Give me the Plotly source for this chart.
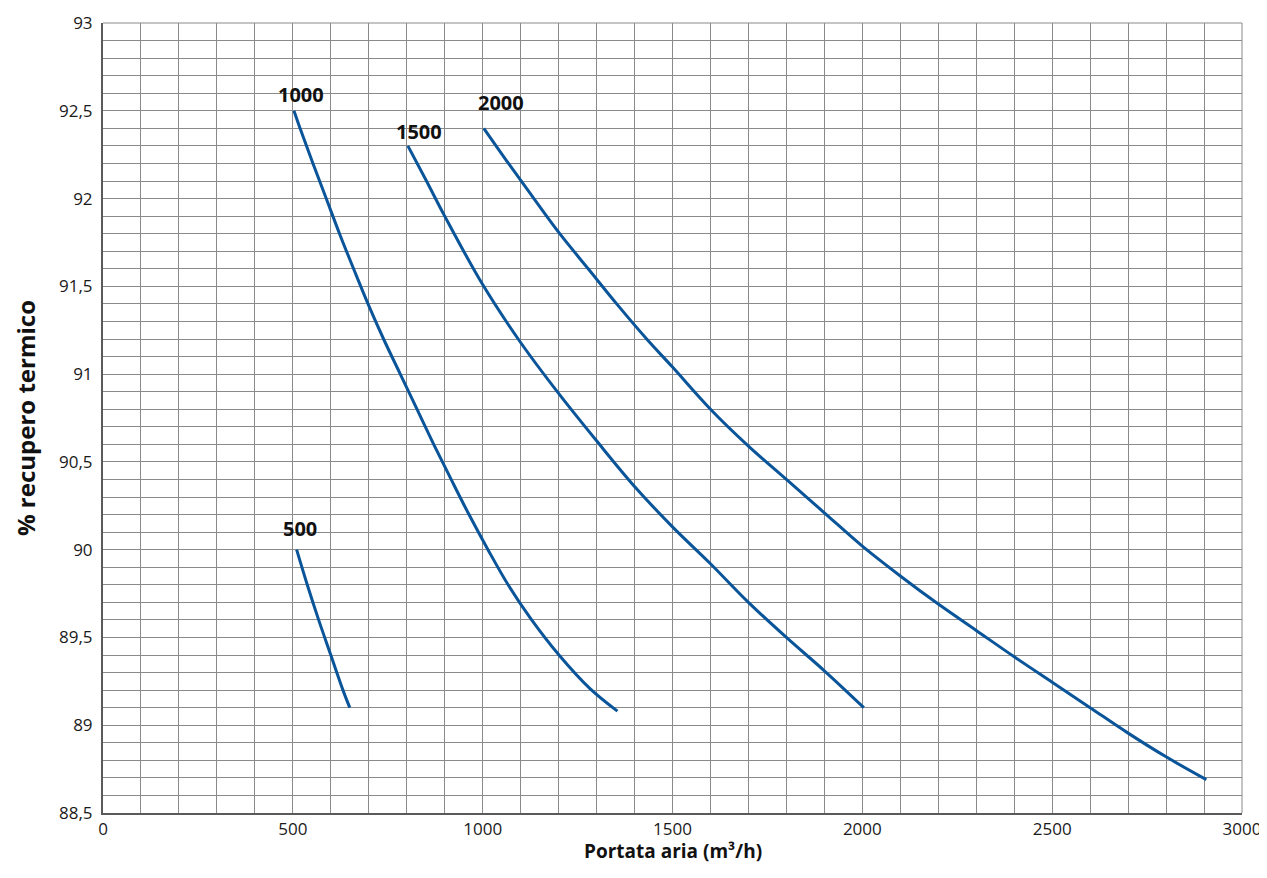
import plotly.graph_objects as go

# Curve data: air flow (m3/h) vs % heat recovery
x_500 = [510, 538, 568, 600, 632, 650]
y_500 = [90.0, 89.8, 89.6, 89.4, 89.2, 89.1]

x_1000 = [503, 519, 553, 588, 623, 660, 698, 739, 783, 827, 871, 917, 964, 1014, 1067, 1129, 1201, 1282, 1355]
y_1000 = [92.5, 92.4, 92.2, 92.0, 91.8, 91.6, 91.4, 91.2, 91.0, 90.8, 90.6, 90.4, 90.2, 90.0, 89.8, 89.6, 89.4, 89.21, 89.08]

x_1500 = [803, 852, 900, 1000, 1100, 1200, 1300, 1400, 1500, 1600, 1700, 1800, 1900, 2004]
y_1500 = [92.3, 92.1, 91.9, 91.51, 91.18, 90.89, 90.62, 90.36, 90.13, 89.92, 89.70, 89.50, 89.31, 89.10]

x_2000 = [1003, 1068, 1135, 1203, 1278, 1353, 1432, 1500, 1600, 1700, 1800, 1900, 2000, 2100, 2200, 2300, 2400, 2500, 2600, 2700, 2800, 2906]
y_2000 = [92.4, 92.2, 92.0, 91.8, 91.6, 91.4, 91.2, 91.04, 90.80, 90.59, 90.40, 90.21, 90.02, 89.85, 89.69, 89.54, 89.39, 89.245, 89.10, 88.955, 88.82, 88.69]

curve_names = ["500", "1000", "1500", "2000"]
label_x = [519, 522, 832, 1048]
label_y = [90.12, 92.59, 92.38, 92.55]

x_tickvals = [0, 500, 1000, 1500, 2000, 2500, 3000]
x_ticktext = ["0", "500", "1000", "1500", "2000", "2500", "3000"]
y_tickvals = [88.5, 89, 89.5, 90, 90.5, 91, 91.5, 92, 92.5, 93]
y_ticktext = ["88,5", "89", "89,5", "90", "90,5", "91", "91,5", "92", "92,5", "93"]

x_title = "Portata aria (m³/h)"
y_title = "% recupero termico"

LINE_COLOR = "#0a559a"
GRID_COLOR = "#8a8a8a"

fig = go.Figure()
for name, xs, ys in zip(curve_names,
                        [x_500, x_1000, x_1500, x_2000],
                        [y_500, y_1000, y_1500, y_2000]):
    fig.add_trace(go.Scatter(x=xs, y=ys, mode="lines", name=name,
                             line=dict(color=LINE_COLOR, width=3, shape="spline", smoothing=1.0),
                             showlegend=False))

for name, lx, ly in zip(curve_names, label_x, label_y):
    fig.add_annotation(x=lx, y=ly, text="<b>%s</b>" % name, showarrow=False,
                       font=dict(family="Open Sans", size=20, color="#111111"),
                       xanchor="center", yanchor="middle")

# axis titles
fig.add_annotation(xref="paper", yref="paper", x=0.5, y=0, yshift=-38,
                   text="<b>%s</b>" % x_title, showarrow=False,
                   xanchor="center", yanchor="middle",
                   font=dict(family="Open Sans", size=19, color="#111111"))
fig.add_annotation(xref="paper", yref="paper", x=0, y=0.5, xshift=-78,
                   text="<b>%s</b>" % y_title, showarrow=False, textangle=-90,
                   xanchor="center", yanchor="middle",
                   font=dict(family="Open Sans", size=24, color="#111111"))

fig.update_layout(
    width=1259, height=860,
    margin=dict(l=95, r=25, t=15, b=55),
    paper_bgcolor="white", plot_bgcolor="white",
    font=dict(family="Open Sans", size=17, color="#1a1a1a"),
    xaxis=dict(range=[0, 3000], tickvals=x_tickvals, ticktext=x_ticktext,
               showgrid=True, gridcolor=GRID_COLOR, gridwidth=1,
               minor=dict(dtick=100, showgrid=True, gridcolor=GRID_COLOR, gridwidth=1),
               showline=True, linecolor="#5a5a5a", linewidth=2, zeroline=False,
               ticks="", ticklabelstandoff=0, automargin=False),
    yaxis=dict(range=[88.5, 93], tickvals=y_tickvals, ticktext=y_ticktext,
               showgrid=True, gridcolor=GRID_COLOR, gridwidth=1,
               minor=dict(dtick=0.1, showgrid=True, gridcolor=GRID_COLOR, gridwidth=1),
               showline=True, linecolor="#5a5a5a", linewidth=2, zeroline=False,
               ticks="", ticklabelstandoff=5, automargin=False),
)

# top and right frame edges (gridline-coloured)
fig.add_shape(type="line", xref="paper", yref="paper", x0=0, x1=1, y0=1, y1=1,
              line=dict(color=GRID_COLOR, width=1), layer="below")
fig.add_shape(type="line", xref="paper", yref="paper", x0=1, x1=1, y0=0, y1=1,
              line=dict(color=GRID_COLOR, width=1), layer="below")

fig.write_html("out.html")
